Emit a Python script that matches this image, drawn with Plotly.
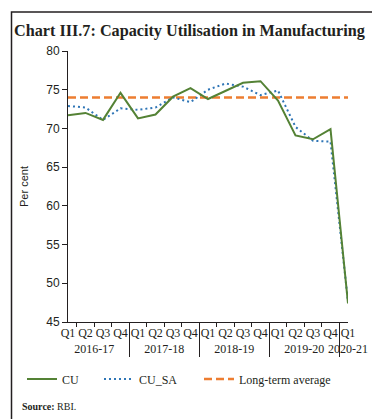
import plotly.graph_objects as go

years = ["2016-17"] * 4 + ["2017-18"] * 4 + ["2018-19"] * 4 + ["2019-20"] * 4 + ["2020-21"]
quarters = ["Q1", "Q2", "Q3", "Q4"] * 4 + ["Q1"]
cu = [71.7, 72.0, 71.1, 74.6, 71.3, 71.8, 74.1, 75.2, 73.8, 74.9, 75.9, 76.1, 73.6, 69.1, 68.6, 69.9, 47.4]
cu_sa = [72.9, 72.7, 71.1, 72.6, 72.4, 72.7, 74.0, 73.4, 75.0, 75.8, 75.4, 74.3, 74.9, 70.2, 68.4, 68.3, 47.6]
long_term_avg = [74.0] * 17

x = [years, quarters]
serif = "Liberation Serif"
sans = "Liberation Sans"

fig = go.Figure()
fig.add_trace(go.Scatter(x=x, y=long_term_avg, mode="lines", name="Long-term average",
                         line=dict(color="#ed7d31", width=2.5, dash="8px,4px"), legend="legend3"))
fig.add_trace(go.Scatter(x=x, y=cu_sa, mode="lines", name="CU_SA",
                         line=dict(color="#2e75b6", width=2, dash="2px,3px"), legend="legend2"))
fig.add_trace(go.Scatter(x=x, y=cu, mode="lines", name="CU",
                         line=dict(color="#548235", width=2), legend="legend"))

L, R, T, B = 60, 340, 43, 314
W, H = 380, 419
pw, ph = R - L, B - T

def px(xp):
    return (xp - L) / pw

def py(yp):
    return (B - yp) / ph

leg_common = dict(orientation="h", yanchor="middle", xanchor="left",
                  font=dict(family=serif, size=12, color="#231f20"),
                  bgcolor="rgba(0,0,0,0)", traceorder="normal")

fig.update_layout(
    width=W, height=H,
    margin=dict(l=L, r=W - R, t=T, b=H - B, autoexpand=False),
    paper_bgcolor="white", plot_bgcolor="white",
    legend=dict(x=px(14), y=py(371), **leg_common),
    legend2=dict(x=px(91), y=py(371), **leg_common),
    legend3=dict(x=px(191), y=py(371), **leg_common),
    xaxis=dict(type="multicategory", showline=True, linecolor="#231f20", linewidth=1,
               ticks="outside", ticklen=4, tickcolor="#231f20", tickson="boundaries",
               tickangle=0,
               showdividers=True, dividercolor="#231f20", dividerwidth=1,
               tickfont=dict(family=serif, size=12, color="#231f20"),
               showgrid=False, zeroline=False),
    yaxis=dict(range=[45, 80], dtick=5, showline=True, linecolor="#231f20", linewidth=1,
               ticks="outside", ticklen=5, tickcolor="#231f20",
               tickfont=dict(family=sans, size=12, color="#231f20"),
               showgrid=False, zeroline=False,
               title=dict(text="Per cent", font=dict(family=sans, size=11, color="#231f20"),
                          standoff=15)),
    showlegend=True,
)

fig.add_shape(type="rect", xref="paper", yref="paper",
              x0=px(3.5), x1=px(376), y0=py(412), y1=py(4),
              line=dict(color="#231f20", width=1.5), fillcolor="rgba(0,0,0,0)", layer="below")

fig.add_annotation(text="<b>Chart III.7: Capacity Utilisation in Manufacturing</b>",
                   xref="paper", yref="paper", x=px(4), y=py(23),
                   xanchor="left", yanchor="middle", showarrow=False,
                   font=dict(family=serif, size=16.2, color="#231f20"))

fig.add_annotation(text="<b>Source:</b> RBI.", xref="paper", yref="paper",
                   x=px(12), y=py(398), xanchor="left", yanchor="middle", showarrow=False,
                   font=dict(family=serif, size=10, color="#231f20"))

fig.write_html("out.html", config={"displayModeBar": False})
